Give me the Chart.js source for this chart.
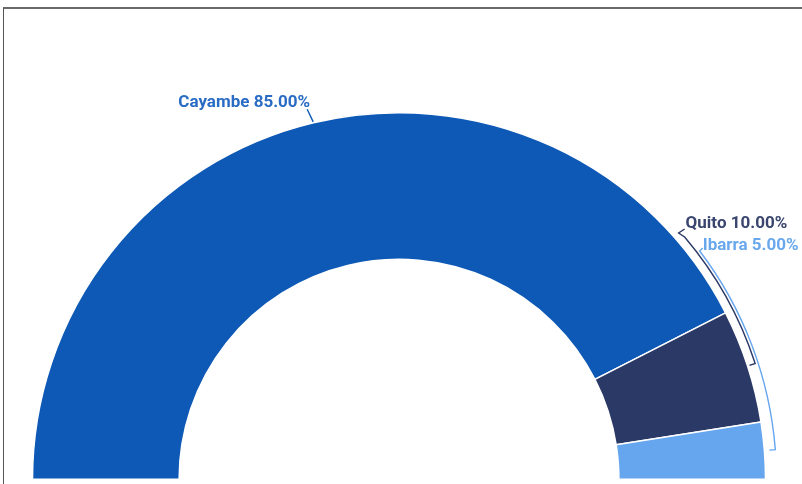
<!DOCTYPE html>
<html>
<head>
<meta charset="utf-8">
<script src="https://cdn.jsdelivr.net/npm/chart.js@4.4.1/dist/chart.umd.min.js"></script>
<style>
  html, body { margin: 0; padding: 0; background: #fff; }
  #wrap { position: relative; width: 802px; height: 484px; overflow: hidden; }
  #frame { position: absolute; left: 3px; top: 7px; width: 900px; height: 600px;
           border-top: 2px solid #6a6a6a; border-left: 1px solid #555; }
  canvas { position: absolute; left: 0; top: 0; }
</style>
</head>
<body>
<div id="wrap">
  <div id="frame"></div>
  <canvas id="pie" width="802" height="484"></canvas>
</div>
<script>
// datos
const cities = ['Cayambe', 'Quito', 'Ibarra'];
const shares = [85, 10, 5];
const colors = ['#0D59B5', '#2B3966', '#66A6EE'];
const textColors = ['#2a6cc4', '#3a466f', '#6aa8ee'];

// posición de etiquetas (grados sobre la horizontal derecha), null = en el centro del arco
const labelAngle = [null, 40.3, 37.2];
const bracketGap = [14, 8, 11];

const total = shares.reduce((a, b) => a + b, 0);

const labelPlugin = {
  id: 'sideLabels',
  afterDatasetsDraw(chart) {
    const ctx = chart.ctx;
    const arcs = chart.getDatasetMeta(0).data;
    ctx.save();
    ctx.font = 'bold 17px Roboto, "Noto Sans", sans-serif';
    ctx.lineWidth = 1.4;
    arcs.forEach((arc, i) => {
      const { x, y, startAngle, endAngle, outerRadius } = arc.getProps(['x', 'y', 'startAngle', 'endAngle', 'outerRadius'], true);
      const mid = (startAngle + endAngle) / 2;
      const txt = cities[i] + ' ' + (shares[i] / total * 100).toFixed(2) + '%';
      ctx.strokeStyle = colors[i];
      ctx.fillStyle = textColors[i];
      const rr = outerRadius + bracketGap[i];
      if (labelAngle[i] === null) {
        const ax = x + rr * Math.cos(mid), ay = y + rr * Math.sin(mid);
        ctx.beginPath();
        ctx.moveTo(ax - 3, ay);
        ctx.lineTo(x + (outerRadius + 1) * Math.cos(mid), y + (outerRadius + 1) * Math.sin(mid));
        ctx.stroke();
        ctx.textAlign = 'right';
        ctx.textBaseline = 'alphabetic';
        ctx.fillText(txt, ax, ay - 2);
      } else {
        const la = -labelAngle[i] * Math.PI / 180;
        const ax = x + rr * Math.cos(la), ay = y + rr * Math.sin(la);
        const tx = i === 1 ? ax + 1 : ax + 3;
        const ty = i === 1 ? ay - 9 : ay - 1;
        ctx.beginPath();
        if (i === 1) {
          ctx.moveTo(tx - 1, ty + 1);
          ctx.lineTo(tx - 7, ty + 5);
        } else {
          ctx.moveTo(tx, ty - 2);
        }
        ctx.lineTo(ax, ay);
        ctx.arc(x, y, rr, la, mid, false);
        ctx.lineTo(x + (rr - 6) * Math.cos(mid), y + (rr - 6) * Math.sin(mid));
        ctx.stroke();
        ctx.textAlign = 'left';
        ctx.textBaseline = 'alphabetic';
        ctx.fillText(txt, tx, ty);
      }
    });
    ctx.restore();
  }
};

new Chart(document.getElementById('pie').getContext('2d'), {
  type: 'doughnut',
  data: {
    labels: cities,
    datasets: [{
      data: shares,
      backgroundColor: colors,
      borderColor: '#ffffff',
      borderWidth: 1.5
    }]
  },
  options: {
    responsive: false,
    animation: false,
    rotation: -90,
    circumference: 180,
    cutout: '60%',
    layout: { padding: { left: 31, right: 35, top: 112, bottom: 4 } },
    plugins: { legend: { display: false }, tooltip: { enabled: false } }
  },
  plugins: [labelPlugin]
});
</script>
</body>
</html>
